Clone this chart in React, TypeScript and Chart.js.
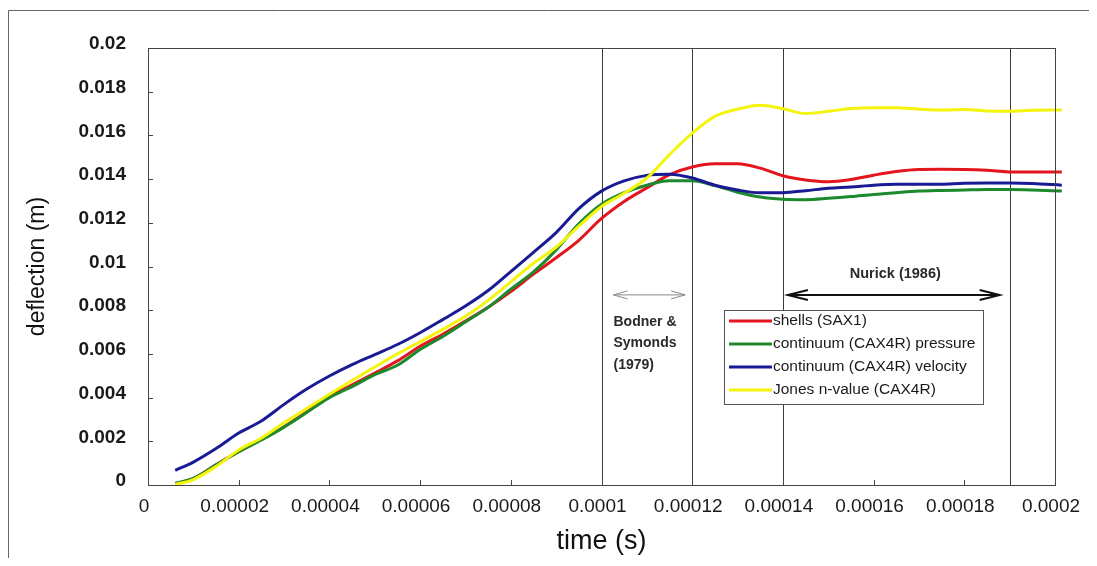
import React, { useEffect, useRef } from "react";
import { Chart, registerables } from "chart.js";

Chart.register(...registerables);

const FONT = "Arial, 'Liberation Sans', Helvetica, sans-serif";

// time (s)
const timeS = [
  0.000006, 0.00001, 0.000015, 0.00002, 0.000025, 0.00003, 0.000035, 0.00004, 0.000045, 0.00005,
  0.000055, 0.00006, 0.000065, 0.00007, 0.000075, 0.00008, 0.000085, 0.00009, 0.000095, 0.0001,
  0.000105, 0.00011, 0.000115, 0.00012, 0.000125, 0.00013, 0.000135, 0.00014, 0.000145, 0.00015,
  0.000155, 0.00016, 0.000165, 0.00017, 0.000175, 0.00018, 0.000185, 0.00019, 0.000195, 0.0002015,
];

// deflection (m)
const shellsSAX1 = [
  0.00005, 0.0003, 0.00093, 0.00153, 0.00208, 0.00267, 0.00335, 0.00405, 0.00458, 0.00512,
  0.00568, 0.00635, 0.0069, 0.0075, 0.00813, 0.00885, 0.00965, 0.0104, 0.0112, 0.0122,
  0.01298, 0.0136, 0.0142, 0.01455, 0.0147, 0.0147, 0.0145, 0.01415, 0.01396, 0.01388,
  0.01398, 0.01418, 0.01435, 0.01444, 0.01445, 0.01444, 0.0144, 0.01433, 0.01433, 0.01433,
];
const continuumPressure = [
  0.00008, 0.0003, 0.00092, 0.00152, 0.00206, 0.00265, 0.00332, 0.004, 0.0045, 0.00505,
  0.00548, 0.0062, 0.0068, 0.00746, 0.00813, 0.00896, 0.00975, 0.01076, 0.01195, 0.01285,
  0.01338, 0.01372, 0.01392, 0.01392, 0.0137, 0.0134, 0.01318, 0.01308, 0.01306, 0.01312,
  0.0132, 0.0133, 0.01338, 0.01345, 0.01348, 0.0135, 0.01352, 0.01352, 0.0135, 0.01345,
];
const continuumVelocity = [
  0.00067, 0.00105, 0.00167, 0.00238, 0.00293, 0.00369, 0.00439, 0.00499, 0.00551, 0.00597,
  0.00643, 0.00697, 0.00757, 0.00819, 0.0089, 0.00977, 0.01065, 0.01155, 0.01265, 0.01345,
  0.01392, 0.01417, 0.01422, 0.01405, 0.01372, 0.0135, 0.01337, 0.01338, 0.01347, 0.01358,
  0.01364, 0.01372, 0.01376, 0.01376, 0.01377, 0.01381, 0.01382, 0.01382, 0.0138, 0.01372,
];
const jonesNValue = [
  0.00003, 0.00025, 0.00085, 0.0016, 0.00215, 0.00285, 0.0035, 0.00415, 0.00478, 0.0054,
  0.006, 0.00655, 0.00712, 0.00772, 0.00845, 0.0093, 0.01015, 0.01088, 0.01185, 0.01275,
  0.01335, 0.01405, 0.01512, 0.0161, 0.01687, 0.0172, 0.01738, 0.01722, 0.017, 0.0171,
  0.01723, 0.01727, 0.01726, 0.0172, 0.01716, 0.01719, 0.01712, 0.0171, 0.01715, 0.01716,
];

const seriesNames = [
  "shells (SAX1)",
  "continuum (CAX4R) pressure",
  "continuum (CAX4R) velocity",
  "Jones n-value (CAX4R)",
];
const seriesColors = ["#e3161e", "#1c8a2c", "#1a1a94", "#f4f40c"];

const xTickValues = [0, 0.00002, 0.00004, 0.00006, 0.00008, 0.0001, 0.00012, 0.00014, 0.00016, 0.00018, 0.0002];
const xTickLabels = ["0", "0.00002", "0.00004", "0.00006", "0.00008", "0.0001", "0.00012", "0.00014", "0.00016", "0.00018", "0.0002"];
const yTickValues = [0, 0.002, 0.004, 0.006, 0.008, 0.01, 0.012, 0.014, 0.016, 0.018, 0.02];
const yTickLabels = ["0", "0.002", "0.004", "0.006", "0.008", "0.01", "0.012", "0.014", "0.016", "0.018", "0.02"];

// vertical reference lines (s)
const markerTimes = [0.0001, 0.00012, 0.00014, 0.00019];
// annotated ranges
const bodnerRange = [0.0001, 0.00012];
const nurickRange = [0.00014, 0.00019];
const arrowLevel = 0.0087;
const bodnerText = ["Bodner &", "Symonds", "(1979)"];
const nurickText = "Nurick (1986)";

function drawArrow(ctx: CanvasRenderingContext2D, x1: number, x2: number, y: number, color: string, lw: number, hl: number, hh: number) {
  ctx.save();
  ctx.strokeStyle = color;
  ctx.lineWidth = lw;
  ctx.lineJoin = "miter";
  ctx.beginPath();
  ctx.moveTo(x1, y);
  ctx.lineTo(x2, y);
  ctx.moveTo(x1 + hl, y - hh);
  ctx.lineTo(x1, y);
  ctx.lineTo(x1 + hl, y + hh);
  ctx.moveTo(x2 - hl, y - hh);
  ctx.lineTo(x2, y);
  ctx.lineTo(x2 - hl, y + hh);
  ctx.stroke();
  ctx.restore();
}

const decorPlugin = {
  id: "decor",
  beforeDraw(chart: any) {
    const ctx = chart.ctx as CanvasRenderingContext2D;
    ctx.save();
    ctx.strokeStyle = "#666";
    ctx.lineWidth = 1;
    ctx.beginPath();
    ctx.moveTo(0.5, chart.height);
    ctx.lineTo(0.5, 2.5);
    ctx.lineTo(chart.width, 2.5);
    ctx.stroke();
    ctx.restore();
  },
  beforeDatasetsDraw(chart: any) {
    const ctx = chart.ctx as CanvasRenderingContext2D;
    const x = chart.scales.x;
    const a = chart.chartArea;
    ctx.save();
    ctx.strokeStyle = "#3a3a3a";
    ctx.lineWidth = 1;
    markerTimes.forEach((t) => {
      const px = Math.round(x.getPixelForValue(t)) + 0.5;
      ctx.beginPath();
      ctx.moveTo(px, a.top);
      ctx.lineTo(px, a.bottom);
      ctx.stroke();
    });
    ctx.restore();
  },
  afterDatasetsDraw(chart: any) {
    const ctx = chart.ctx as CanvasRenderingContext2D;
    const xs = chart.scales.x;
    const ys = chart.scales.y;
    const a = chart.chartArea;
    ctx.save();
    // plot border
    ctx.strokeStyle = "#444";
    ctx.lineWidth = 1;
    ctx.strokeRect(Math.round(a.left) + 0.5, Math.round(a.top) + 0.5, Math.round(a.right - a.left), Math.round(a.bottom - a.top));
    // inside tick marks
    ctx.beginPath();
    yTickValues.forEach((v) => {
      const py = Math.round(ys.getPixelForValue(v)) + 0.5;
      ctx.moveTo(a.left, py);
      ctx.lineTo(a.left + 5, py);
    });
    xTickValues.forEach((v) => {
      const px = Math.round(xs.getPixelForValue(v)) + 0.5;
      ctx.moveTo(px, a.bottom);
      ctx.lineTo(px, a.bottom - 5);
    });
    ctx.stroke();

    const ay = ys.getPixelForValue(arrowLevel);
    // Bodner & Symonds
    const b1 = xs.getPixelForValue(bodnerRange[0]);
    const b2 = xs.getPixelForValue(bodnerRange[1]);
    drawArrow(ctx, b1 + 12, b2 - 7, ay, "#8a8a8a", 1, 14, 4);
    ctx.fillStyle = "#2a2a2a";
    ctx.font = `bold 14px ${FONT}`;
    ctx.textAlign = "left";
    ctx.textBaseline = "middle";
    bodnerText.forEach((s, i) => ctx.fillText(s, b1 + 12, ay + 27 + i * 21.7));

    // Nurick
    const n1 = xs.getPixelForValue(nurickRange[0]);
    const n2 = xs.getPixelForValue(nurickRange[1]);
    drawArrow(ctx, n1 + 5, n2 - 10, ay, "#111", 2, 20, 5);
    ctx.textAlign = "center";
    ctx.font = `bold 14.5px ${FONT}`;
    ctx.fillText(nurickText, (n1 + n2) / 2 - 1, ay - 21);

    // legend
    const lx = 716, ly = 302, lw = 259, lh = 94;
    ctx.fillStyle = "#fff";
    ctx.fillRect(lx, ly, lw, lh);
    ctx.strokeStyle = "#555";
    ctx.lineWidth = 1;
    ctx.strokeRect(lx + 0.5, ly + 0.5, lw, lh);
    ctx.textAlign = "left";
    ctx.font = `15.5px ${FONT}`;
    chart.data.datasets.forEach((ds: any, i: number) => {
      const y = ly + 11 + i * 23;
      ctx.strokeStyle = ds.borderColor;
      ctx.lineWidth = 3;
      ctx.beginPath();
      ctx.moveTo(lx + 5, y);
      ctx.lineTo(lx + 48, y);
      ctx.stroke();
      ctx.fillStyle = "#1a1a1a";
      ctx.fillText(ds.label, lx + 49, y);
    });
    ctx.restore();
  },
};

export default function App() {
  const ref = useRef<HTMLCanvasElement | null>(null);
  useEffect(() => {
    if (!ref.current) return;
    const series = [shellsSAX1, continuumPressure, continuumVelocity, jonesNValue];
    const chart = new Chart(ref.current, {
      type: "line",
      data: {
        datasets: series.map((vals, i) => ({
          label: seriesNames[i],
          data: timeS.map((t, k) => ({ x: t, y: vals[k] })),
          borderColor: seriesColors[i],
          backgroundColor: seriesColors[i],
          borderWidth: 3,
          pointRadius: 0,
          cubicInterpolationMode: "monotone" as const,
          clip: false as any,
          order: 4 - i,
        })),
      },
      options: {
        animation: false,
        responsive: false,
        maintainAspectRatio: false,
        layout: { padding: { left: 0, top: 40, right: 34, bottom: 0 } },
        plugins: { legend: { display: false }, tooltip: { enabled: false } },
        scales: {
          x: {
            type: "linear",
            min: 0,
            max: 0.0002,
            afterBuildTicks: (s: any) => {
              s.ticks = xTickValues.map((v) => ({ value: v }));
            },
            afterFit: (s: any) => {
              s.height = 73;
              s.paddingLeft = 0;
              s.paddingRight = 0;
            },
            grid: { display: false, drawTicks: false },
            border: { display: false },
            ticks: {
              autoSkip: false,
              maxRotation: 0,
              padding: 10,
              labelOffset: -4,
              color: "#1a1a1a",
              font: { family: FONT, size: 19 },
              callback: (v: any) => {
                const i = xTickValues.findIndex((t) => Math.abs(t - v) < 1e-9);
                return i >= 0 ? xTickLabels[i] : "";
              },
            },
            title: {
              display: true,
              text: "time (s)",
              color: "#111",
              font: { family: FONT, size: 27, lineHeight: 1.2 },
              padding: { top: 0, bottom: 0 },
            },
          },
          y: {
            type: "linear",
            min: 0,
            max: 0.02,
            afterBuildTicks: (s: any) => {
              s.ticks = yTickValues.map((v) => ({ value: v }));
            },
            afterFit: (s: any) => {
              s.width = 140;
              s.paddingTop = 0;
              s.paddingBottom = 0;
            },
            grid: { display: false, drawTicks: false },
            border: { display: false },
            ticks: {
              autoSkip: false,
              padding: 22,
              labelOffset: -4,
              color: "#1a1a1a",
              font: { family: FONT, size: 19, weight: "bold" },
              callback: (v: any) => {
                const i = yTickValues.findIndex((t) => Math.abs(t - v) < 1e-9);
                return i >= 0 ? yTickLabels[i] : "";
              },
            },
            title: {
              display: true,
              text: "deflection (m)",
              color: "#111",
              font: { family: FONT, size: 23, lineHeight: 1.2 },
              padding: { top: 16, bottom: 0 },
            },
          },
        },
      },
      plugins: [decorPlugin],
    });
    return () => chart.destroy();
  }, []);
  return (
    <div style={{ position: "relative", width: 1081, height: 550 }}>
      <canvas ref={ref} width={1081} height={550} style={{ display: "block", width: 1081, height: 550 }} />
    </div>
  );
}
